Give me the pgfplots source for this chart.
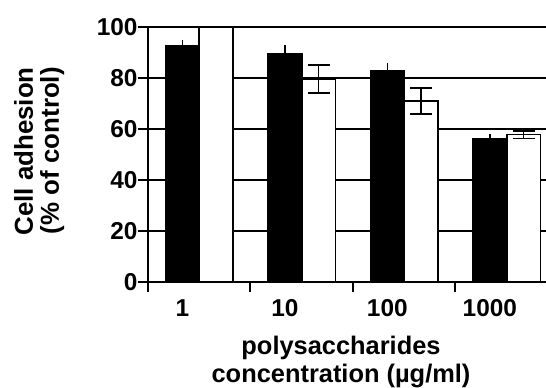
\documentclass[border=0pt]{standalone}
\usepackage{fontspec}
\setmainfont{Liberation Sans}
\usepackage{pgfplots}
\pgfplotsset{compat=1.18}
\begin{document}
\begin{tikzpicture}
\useasboundingbox (-148bp,-106bp) rectangle (398bp,282bp);
\begin{axis}[
  at={(0,0)}, anchor=south west,
  scale only axis, width=398bp, height=255bp,
  xmin=-0.5, xmax=3.383, ymin=0, ymax=100,
  clip=false,
  axis x line*=bottom, axis y line*=left,
  axis line style={line width=2bp, -},
  ytick={0,20,...,100},
  xtick={-0.5,0.5,1.5,2.5}, xticklabels={},
  extra x ticks={-0.165,0.835,1.835,2.835},
  extra x tick labels={1,10,100,1000},
  extra x tick style={major tick length=0pt, tick label style={yshift=-14bp}},
  tick align=outside, major tick length=10bp,
  tick style={line width=2bp, black},
  ymajorgrids, grid style={line width=1.6bp, black},
  /pgf/number format/assume math mode=true,
  tick label style={font=\fontsize{24.5}{24.5}\selectfont\bfseries},
  yticklabel style={xshift=3bp},
  xlabel={polysaccharides\\concentration (µg/ml)},
  xlabel style={at={(axis description cs:0.485,0)}, anchor=north, yshift=-51bp,
    align=center, font=\fontsize{25.5}{27.5}\selectfont\bfseries},
  ylabel={Cell adhesion\\(\% of control)},
  ylabel style={at={(axis description cs:-0.3367,0.843)}, anchor=north east, rotate=0,
    inner sep=0pt, align=right, font=\fontsize{26}{26}\selectfont\bfseries},
  ybar, bar width=0.33, bar shift=0pt,
]
\addplot[fill=black, draw=black, line width=1.6bp,
  error bars/.cd, y dir=plus, y explicit, error mark=none,
  error bar style={line width=1.6bp, black}]
  coordinates {(-0.165,92.7) +- (0,2.2) (0.835,89.3) +- (0,3.6) (1.835,82.9) +- (0,3.1) (2.835,56.0) +- (0,2.2)};
\addplot[fill=white, draw=black, line width=1.6bp,
  error bars/.cd, y dir=both, y explicit,
  error bar style={line width=1.6bp, black},
  error mark options={rotate=90, mark size=11bp, line width=1.8bp, black}]
  coordinates {(0.165,100) +- (0,0) (1.165,79.6) +- (0,5.6) (2.165,71.0) +- (0,5.0) (3.165,57.8) +- (0,1.5)};
\end{axis}
\end{tikzpicture}
\end{document}
